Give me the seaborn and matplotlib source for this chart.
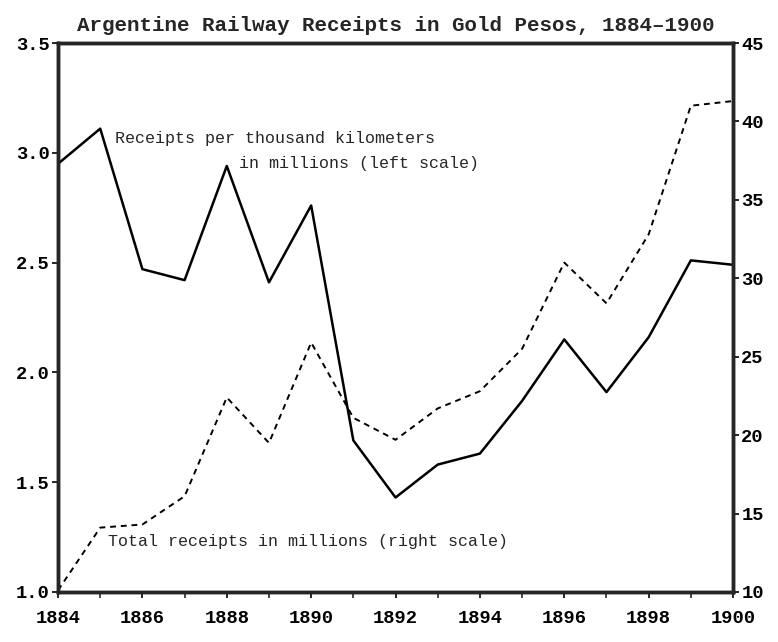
import numpy as np
import pandas as pd
import seaborn as sns
import matplotlib.pyplot as plt

# -----------------------------
# Data
# -----------------------------
years = list(range(1884, 1901))
per_thousand_km = [2.95, 3.11, 2.47, 2.42, 2.94, 2.41, 2.76, 1.69, 1.43,
                   1.58, 1.63, 1.87, 2.15, 1.91, 2.16, 2.51, 2.49]
total_receipts = [10.1, 14.1, 14.3, 16.1, 22.4, 19.5, 25.9, 21.1, 19.7,
                  21.7, 22.8, 25.5, 31.0, 28.4, 32.8, 41.0, 41.3]

df = pd.DataFrame({"Year": years,
                   "PerKm": per_thousand_km,
                   "Total": total_receipts})

# -----------------------------
# Plot
# -----------------------------
sns.set_style("ticks")
plt.rcParams["font.family"] = ["Liberation Mono", "DejaVu Sans Mono"]

fig = plt.figure(figsize=(7.78, 6.42), dpi=100)
ax = fig.add_axes([0.0746, 0.078, 0.8676, 0.855])
ax2 = ax.twinx()

sns.lineplot(data=df, x="Year", y="PerKm", ax=ax, color="black", linewidth=1.8)
sns.lineplot(data=df, x="Year", y="Total", ax=ax2, color="black",
             linewidth=1.4, linestyle=(0, (3, 2.5)))

ax.set_xlim(1884, 1900)
ax.set_ylim(1.0, 3.5)
ax2.set_ylim(10, 45)

ax.set_xticks(range(1884, 1901, 2))
ax.set_xticks(range(1884, 1901), minor=True)
ax.set_yticks([1.0, 1.5, 2.0, 2.5, 3.0, 3.5])
ax.set_yticklabels(["1.0", "1.5", "2.0", "2.5", "3.0", "3.5"])
ax2.set_yticks([10, 15, 20, 25, 30, 35, 40, 45])

ax.set_xlabel("")
ax.set_ylabel("")
ax2.set_ylabel("")

for a in (ax, ax2):
    for s in a.spines.values():
        s.set_linewidth(2.5)
        s.set_visible(True)
    a.tick_params(axis="both", which="major", length=4, width=1.2, pad=2,
                  labelsize=13.5, colors="black")
    a.tick_params(axis="x", which="minor", length=4, width=1.2)
ax.tick_params(axis="x", which="major", pad=9)
for lab in ax.get_xticklabels() + ax.get_yticklabels() + ax2.get_yticklabels():
    lab.set_fontweight("bold")

ax.set_title("Argentine Railway Receipts in Gold Pesos, 1884\u20131900",
             fontsize=15, fontweight="bold", pad=9)

ax.text(1885.35, 3.066, "Receipts per thousand kilometers",
        fontsize=12, va="center", ha="left")
ax.text(1888.3, 2.95, "in millions (left scale)",
        fontsize=12, va="center", ha="left")
ax.text(1885.18, 1.23, "Total receipts in millions (right scale)",
        fontsize=12, va="center", ha="left")

fig.savefig("out.png", dpi=100)
